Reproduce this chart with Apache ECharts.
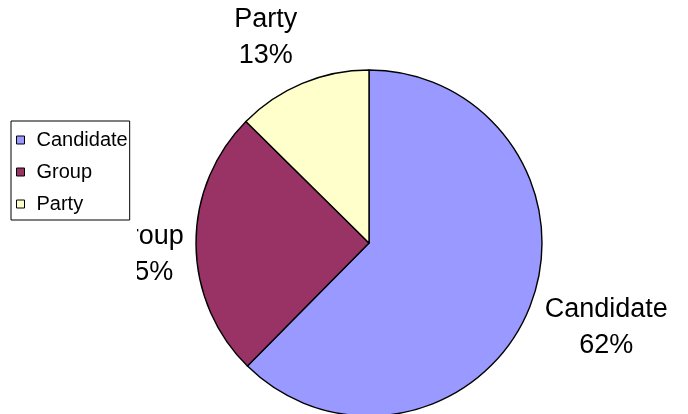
<!DOCTYPE html>
<html>
<head>
<meta charset="utf-8">
<style>
  html, body { margin: 0; padding: 0; background: #fff; }
  #chart { width: 688px; height: 414px; }
</style>
<script src="https://cdn.jsdelivr.net/npm/echarts@6/dist/echarts.min.js"></script>
</head>
<body>
<div id="chart"></div>
<script>
// ---- data ----
var categories = ['Candidate', 'Group', 'Party'];
var shares = [62.4, 25.0, 12.6];
var sliceColors = ['#9999FF', '#993366', '#FFFFCC'];

// ---- layout / style ----
var CX = 369, CY = 243, R = 173;
var FONT = 'Liberation Sans, Arial, Helvetica, sans-serif';
// label placement: distance from centre and small angular turn (degrees) from slice mid-angle
var labelPlace = [
  { dist: 252, turn: -2.6 },
  { dist: 223, turn: -2.6 },
  { dist: 230, turn: -4.0 }
];
// left edge of the drawing area (labels beyond it are clipped, as in the original)
var CLIP_X = 137;

var total = shares.reduce(function (a, b) { return a + b; }, 0);
function midAngle(i) {
  var before = 0;
  for (var k = 0; k < i; k++) before += shares[k];
  return (before + shares[i] / 2) / total * 360; // clockwise from 12 o'clock
}

var chart = echarts.init(document.getElementById('chart'), null, { renderer: 'canvas' });
chart.setOption({
  animation: false,
  backgroundColor: '#ffffff',
  graphic: [{
    type: 'rect',
    z: 100,
    silent: true,
    shape: { x: 90, y: 221.5, width: CLIP_X - 90, height: 80 },
    style: { fill: '#ffffff' }
  }],
  legend: {
    orient: 'vertical',
    left: 11,
    top: 121,
    z: 50,
    padding: [9, 2, 6, 5],
    itemGap: 12,
    itemWidth: 8,
    itemHeight: 8,
    icon: 'rect',
    backgroundColor: '#ffffff',
    borderColor: '#000000',
    borderWidth: 1,
    borderRadius: 0,
    selectedMode: false,
    itemStyle: { borderColor: '#000000', borderWidth: 1 },
    textStyle: { fontFamily: FONT, fontSize: 20, color: '#000000', padding: [0, 0, 0, 7] },
    data: categories
  },
  series: [{
    type: 'pie',
    center: [CX, CY],
    radius: R,
    startAngle: 90,
    clockwise: true,
    avoidLabelOverlap: false,
    silent: true,
    itemStyle: { borderColor: '#000000', borderWidth: 1.4 },
    label: {
      show: true,
      position: 'outside',
      fontFamily: FONT,
      fontSize: 27,
      lineHeight: 36,
      color: '#000000',
      align: 'center',
      formatter: function (p) { return p.name + '\n' + Math.round(p.value / total * 100) + '%'; }
    },
    labelLine: { show: false },
    labelLayout: function (params) {
      var i = params.dataIndex;
      var a = (midAngle(i) + labelPlace[i].turn) * Math.PI / 180;
      var d = labelPlace[i].dist;
      return {
        x: CX + Math.sin(a) * d,
        y: CY - Math.cos(a) * d,
        align: 'center',
        verticalAlign: 'middle'
      };
    },
    emphasis: { disabled: true },
    data: categories.map(function (c, i) {
      return { name: c, value: shares[i], itemStyle: { color: sliceColors[i] } };
    })
  }]
});
</script>
</body>
</html>
